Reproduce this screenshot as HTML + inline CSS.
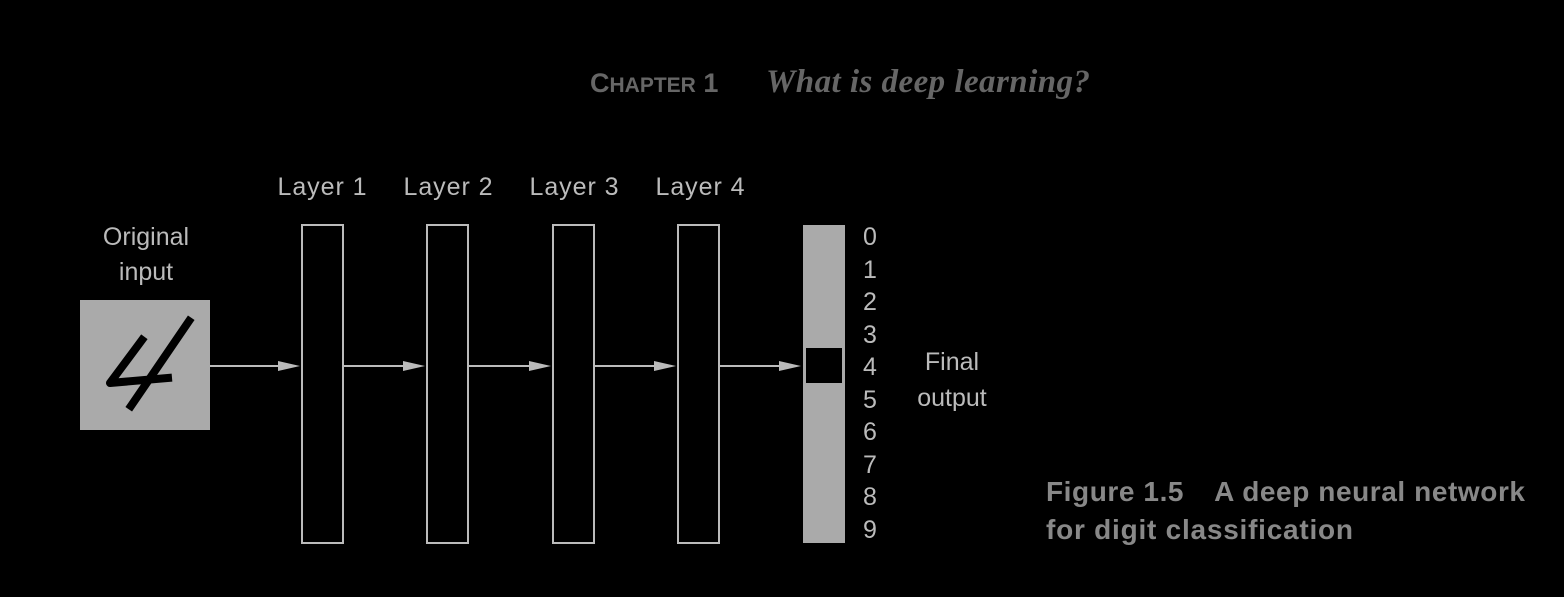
<!DOCTYPE html>
<html><head><style>
body{margin:0;background:#000;width:1564px;height:592px;overflow:hidden}
svg text{font-family:"Liberation Sans",sans-serif}
</style></head><body>
<svg width="1564" height="592">
<text x="590" y="92" fill="#666" font-size="27" font-weight="bold">C<tspan font-size="21">HAPTER</tspan> 1</text>
<text x="766" y="92" fill="#666" font-size="33" font-style="italic" font-weight="bold" style="font-family:'Liberation Serif',serif" textLength="324">What is deep learning?</text>
<g fill="#bbb" font-size="25">
<text x="146" y="245" text-anchor="middle">Original</text>
<text x="146" y="280" text-anchor="middle">input</text>
<text x="322" y="195" text-anchor="middle" textLength="89">Layer 1</text>
<text x="448" y="195" text-anchor="middle" textLength="89">Layer 2</text>
<text x="574" y="195" text-anchor="middle" textLength="89">Layer 3</text>
<text x="700" y="195" text-anchor="middle" textLength="89">Layer 4</text>
<text x="952" y="370" text-anchor="middle">Final</text>
<text x="952" y="406" text-anchor="middle">output</text>
</g>
<rect x="80" y="300" width="130" height="130" fill="#aaa"/>
<g stroke="#000" stroke-width="8" fill="none" stroke-linecap="square" stroke-linejoin="round">
<path d="M142 340 L110 383 L168 378"/>
<path d="M189 321 L131 406"/>
</g>
<g stroke="#bbb" stroke-width="2" fill="none">
<rect x="302" y="225" width="41" height="318"/>
<rect x="427" y="225" width="41" height="318"/>
<rect x="553" y="225" width="41" height="318"/>
<rect x="678" y="225" width="41" height="318"/>
<line x1="210" y1="366" x2="290" y2="366"/>
<line x1="343" y1="366" x2="415" y2="366"/>
<line x1="468" y1="366" x2="541" y2="366"/>
<line x1="594" y1="366" x2="666" y2="366"/>
<line x1="719" y1="366" x2="791" y2="366"/>
</g>
<g fill="#bbb">
<polygon points="278,361 300,366 278,371"/>
<polygon points="403,361 425,366 403,371"/>
<polygon points="529,361 551,366 529,371"/>
<polygon points="654,361 676,366 654,371"/>
<polygon points="779,361 801,366 779,371"/>
</g>
<rect x="803" y="225" width="42" height="318" fill="#aaa"/>
<rect x="806" y="348" width="36" height="35" fill="#000"/>
<g fill="#bbb" font-size="25">
<text x="863" y="245">0</text><text x="863" y="278">1</text><text x="863" y="310">2</text>
<text x="863" y="343">3</text><text x="863" y="375">4</text><text x="863" y="408">5</text>
<text x="863" y="440">6</text><text x="863" y="473">7</text><text x="863" y="505">8</text>
<text x="863" y="538">9</text>
</g>
<g fill="#888" font-size="28" font-weight="bold">
<text x="1046" y="501" textLength="479">Figure 1.5<tspan dx="30">A deep neural network</tspan></text>
<text x="1046" y="539" textLength="307">for digit classification</text>
</g>
</svg>
</body></html>
